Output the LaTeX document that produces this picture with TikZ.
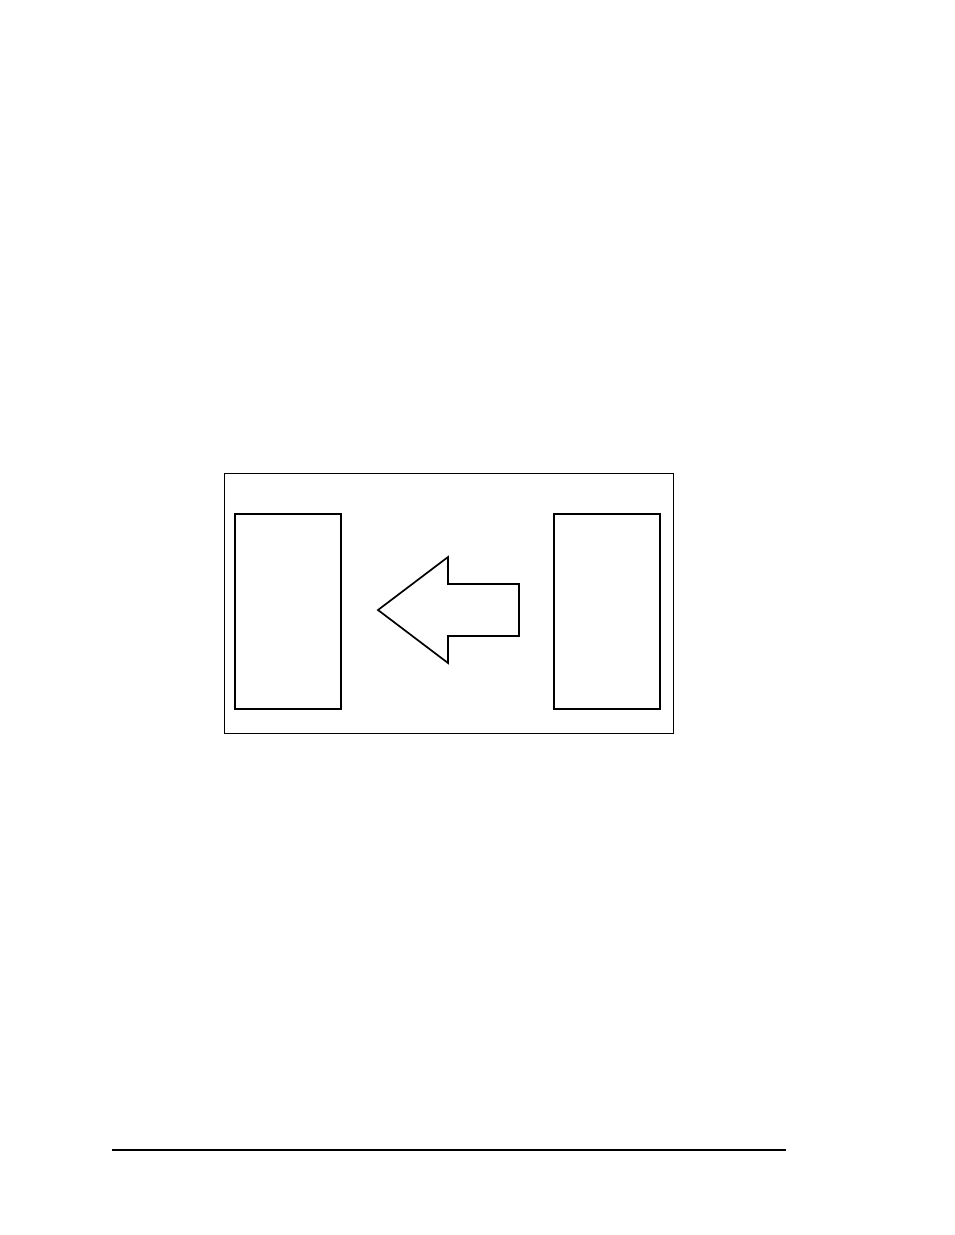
\documentclass[tikz,border=0pt]{standalone}
\usepackage{tikz}
\usetikzlibrary{positioning}

\begin{document}
\begin{tikzpicture}[x=1pt, y=-1pt,
    panel/.style={draw, line width=1.7pt, minimum width=106pt, minimum height=195pt, inner sep=0pt, outer sep=0pt, anchor=north west},
    frame/.style={draw, line width=1pt, outer sep=0pt}]
\useasboundingbox (0,0) rectangle (954,1235);

% Outer frame
\node[frame, minimum width=449pt, minimum height=260pt, inner sep=0pt, anchor=north west] (frame) at (224,473) {};

% Two panels
\node[panel] (leftpanel) at (235,514) {};
\node[panel] (rightpanel) at (554,514) {};

% Big arrow pointing left
\coordinate (tip) at (378,610);
\draw[line width=1.7pt, line join=miter] (tip) -- (448,557) -- (448,584) -- (519,584)
    -- (519,636) -- (448,636) -- (448,663) -- cycle;

% Rule at bottom of page
\coordinate (ruleL) at (112,1150);
\coordinate (ruleR) at (786,1150);
\draw[line width=1.5pt] (ruleL) -- (ruleR);
\end{tikzpicture}
\end{document}
